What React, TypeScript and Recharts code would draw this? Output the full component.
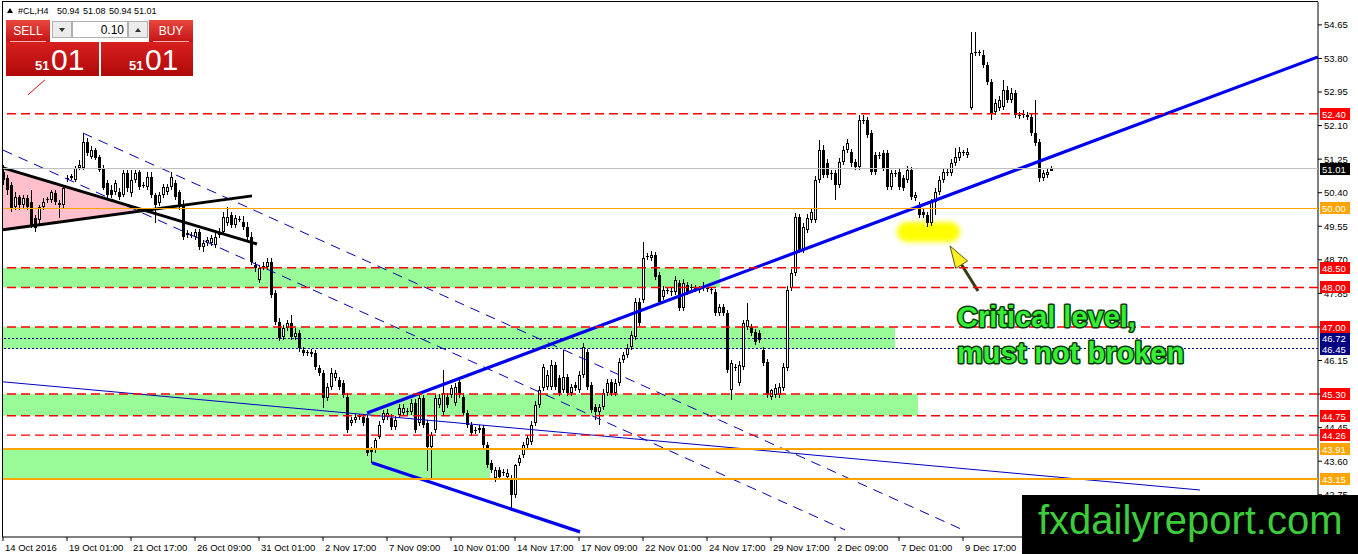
import React from 'react';
import { ComposedChart, Bar, XAxis, YAxis, ReferenceLine, ReferenceArea } from 'recharts';

const FONT = '"Liberation Sans", Arial, Helvetica, sans-serif';

// ---------- candle data (H4 bars, #CL) ----------
const opens = [
  50.93,50.78,50.60,50.04,50.29,50.09,50.27,50.17,49.76,49.71,
  50.04,50.22,50.22,50.40,50.09,50.09,50.75,50.78,50.72,51.03,
  51.03,51.69,51.31,51.48,51.31,51.03,50.65,50.47,50.42,50.42,
  50.34,50.90,50.40,50.72,50.93,50.57,50.55,50.80,50.34,50.14,
  50.34,50.42,50.55,50.65,50.42,50.09,49.38,49.33,49.28,49.41,
  49.03,49.13,49.13,49.08,49.33,49.41,49.63,49.84,49.58,49.74,
  49.66,49.53,49.28,48.57,48.19,48.52,48.52,48.65,47.86,47.13,
  46.75,46.98,47.10,46.75,46.85,46.42,46.34,46.37,46.34,45.96,
  45.84,45.20,45.48,45.71,45.66,45.58,45.23,44.57,44.65,44.72,
  44.72,44.70,43.83,43.89,44.22,44.65,44.72,44.70,44.47,44.77,
  44.82,44.85,44.85,45.07,44.57,45.20,44.57,43.96,44.39,45.02,
  44.85,45.23,45.28,45.07,45.61,45.23,44.82,44.52,44.39,44.39,
  44.44,44.01,43.56,43.18,43.38,43.33,43.20,43.18,42.75,43.56,
  43.76,44.01,44.09,44.57,45.02,45.45,45.48,45.48,46.04,45.71,
  45.40,45.73,45.33,45.53,45.40,45.78,46.37,45.53,44.97,44.85,
  44.97,45.33,45.61,45.33,45.58,46.16,46.29,46.49,46.75,47.63,
  47.68,48.77,48.75,48.82,48.32,47.76,47.94,47.89,47.89,48.11,
  47.48,48.06,48.01,47.99,47.94,47.99,47.99,47.94,47.89,47.35,
  47.51,47.35,45.40,45.99,45.58,45.99,47.00,47.00,46.87,46.85,
  46.42,46.11,45.23,45.28,45.28,45.45,45.96,47.99,48.37,49.79,
  48.95,49.46,49.71,49.71,50.72,51.48,51.15,50.90,50.90,50.60,
  51.18,51.48,51.43,51.18,51.05,52.24,52.24,51.91,51.36,51.36,
  51.41,51.41,50.55,50.90,50.93,50.78,50.72,50.98,50.27,50.09,
  49.91,49.84,49.63,50.17,50.42,50.72,50.90,50.90,51.15,51.28,
  51.41,51.36,52.55,53.97,53.94,53.89,53.64,53.21,52.45,52.55,
  52.57,53.00,52.75,52.93,52.37,52.37,52.37,52.32,51.91,51.69,
  50.78,50.85,50.94,
];
const highs = [
  51.10,50.85,50.67,50.42,50.34,50.34,50.34,50.47,49.84,50.09,
  50.27,50.29,50.47,50.47,50.22,50.60,50.85,50.88,51.08,51.23,
  51.91,51.79,51.58,51.53,51.36,51.10,50.72,50.60,50.72,50.52,
  50.98,50.98,50.98,50.98,50.98,50.67,50.93,50.93,50.40,50.42,
  50.62,50.62,50.93,50.72,50.47,50.22,49.46,49.41,49.48,49.48,
  49.20,49.28,49.33,49.38,49.51,49.91,50.04,49.91,49.84,49.81,
  49.81,49.66,49.41,48.65,48.57,48.65,48.75,48.75,47.94,47.23,
  47.05,47.18,47.30,46.98,46.92,46.49,46.42,46.44,46.42,46.04,
  45.91,45.58,45.96,45.91,45.73,45.66,45.33,44.72,44.80,44.80,
  44.80,44.77,43.96,44.19,44.62,44.90,44.92,44.80,44.75,45.05,
  45.05,44.95,45.18,45.18,45.33,45.28,44.65,44.34,45.28,45.30,
  45.91,45.33,45.53,45.58,45.71,45.33,44.90,44.60,44.47,44.52,
  44.52,44.09,43.63,43.45,43.45,43.40,43.40,43.25,43.53,43.76,
  44.09,44.27,44.62,45.13,45.51,46.06,45.91,46.16,46.11,45.78,
  46.42,45.81,45.56,45.61,45.89,46.59,46.44,45.61,45.05,45.05,
  45.43,45.68,45.68,45.68,46.21,46.37,46.57,46.90,47.73,47.73,
  49.15,48.87,48.92,48.90,48.39,48.04,48.01,47.99,48.29,48.19,
  48.22,48.14,48.09,48.06,48.04,48.14,48.09,48.01,47.96,47.58,
  47.58,47.43,46.16,46.06,46.14,47.18,47.61,47.07,46.95,46.92,
  46.49,46.19,45.43,45.56,45.58,46.09,48.04,48.47,49.89,49.86,
  49.63,49.86,50.01,50.82,51.74,51.61,51.26,50.98,50.98,51.28,
  51.58,51.76,51.51,51.26,52.37,52.37,52.32,51.99,51.43,51.43,
  51.48,51.48,50.98,50.98,51.00,50.85,51.08,51.05,50.42,50.17,
  49.99,49.91,50.24,50.52,50.82,51.03,51.03,51.26,51.53,51.56,
  51.48,51.53,54.47,54.47,54.02,54.02,53.71,53.28,52.77,52.85,
  53.26,53.10,53.05,53.00,52.45,52.50,52.45,52.40,52.75,51.76,
  50.98,51.00,51.08,
];
const lows = [
  50.60,50.34,49.91,49.96,49.96,50.01,49.96,49.51,49.41,49.61,
  49.96,50.14,50.14,50.09,49.76,50.01,50.67,50.72,50.67,50.98,
  50.98,51.33,51.26,51.23,50.93,50.47,50.27,50.27,50.34,50.22,
  50.29,50.42,50.29,50.65,50.47,50.52,50.47,50.27,49.63,50.06,
  50.27,50.34,50.47,50.22,49.96,49.20,49.25,49.25,49.20,48.95,
  48.90,49.05,49.05,49.00,49.25,49.33,49.56,49.51,49.51,49.66,
  49.46,49.20,48.57,48.39,48.11,48.44,48.44,47.73,47.05,46.65,
  46.67,46.90,46.67,46.67,46.37,46.27,46.27,46.24,45.91,45.76,
  44.95,45.13,45.40,45.63,45.40,45.20,44.32,44.49,44.57,44.65,
  44.49,43.73,43.56,43.81,44.15,44.57,44.65,44.39,44.39,44.70,
  44.75,44.77,44.77,44.32,44.49,44.44,43.35,43.13,44.32,44.95,
  44.77,44.95,45.20,45.00,45.20,44.75,44.44,44.24,44.29,44.32,
  43.93,43.43,43.30,43.07,43.13,43.23,43.13,42.37,42.67,43.48,
  43.68,43.93,44.01,44.49,44.95,45.38,45.40,45.40,45.40,45.25,
  45.33,45.25,45.25,45.38,45.33,45.71,45.40,44.82,44.65,44.52,
  44.90,45.25,45.25,45.25,45.51,46.09,46.21,46.42,46.67,47.02,
  47.61,48.70,48.67,48.19,47.56,47.68,47.84,47.79,47.81,47.40,
  47.40,47.81,47.91,47.89,47.86,47.91,47.89,47.84,47.28,47.28,
  47.28,45.84,45.15,45.89,45.51,45.91,46.93,46.77,46.54,46.59,
  46.01,45.20,45.15,45.20,45.20,45.38,45.89,47.91,48.29,48.87,
  48.87,49.38,49.63,49.63,50.65,50.77,50.77,50.72,50.22,50.52,
  51.10,51.41,51.05,50.98,50.98,52.14,51.79,50.85,50.85,51.26,
  50.95,50.47,50.47,50.80,50.47,50.44,50.65,50.22,50.19,49.76,
  49.76,49.53,49.56,49.84,50.34,50.65,50.82,50.82,51.08,51.20,
  51.33,51.28,52.50,53.86,53.86,53.56,53.13,52.24,52.37,52.47,
  52.50,52.67,52.67,52.29,52.27,52.29,52.24,51.84,51.58,50.67,
  50.70,50.77,50.94,
];
const closes = [
  50.72,50.47,50.01,50.29,50.09,50.27,50.04,49.58,49.51,50.04,
  50.17,50.24,50.42,50.17,50.14,50.52,50.78,50.83,51.03,51.10,
  51.69,51.41,51.48,51.28,50.98,50.52,50.34,50.34,50.65,50.29,
  50.90,50.52,50.72,50.90,50.55,50.60,50.80,50.34,50.09,50.34,
  50.55,50.55,50.80,50.29,50.04,49.28,49.33,49.32,49.41,49.03,
  49.13,49.20,49.25,49.28,49.41,49.79,49.79,49.58,49.76,49.73,
  49.53,49.28,48.65,48.50,48.50,48.55,48.65,47.81,47.13,46.72,
  46.98,47.10,46.75,46.85,46.47,46.34,46.37,46.32,45.99,45.84,
  45.20,45.48,45.84,45.84,45.48,45.28,44.39,44.65,44.72,44.75,
  44.57,43.81,43.89,44.14,44.52,44.82,44.82,44.47,44.65,44.95,
  44.95,44.87,45.07,44.39,45.20,44.52,43.96,44.27,45.20,45.20,
  45.33,45.02,45.45,45.48,45.28,44.82,44.52,44.32,44.37,44.44,
  44.01,43.50,43.38,43.38,43.20,43.30,43.30,42.75,43.50,43.68,
  44.01,44.19,44.52,45.02,45.40,45.99,45.78,46.04,45.48,45.33,
  45.73,45.33,45.48,45.45,45.78,46.49,45.48,44.90,44.85,44.97,
  45.33,45.58,45.33,45.58,46.11,46.29,46.47,46.80,47.63,47.10,
  48.75,48.80,48.82,48.27,47.63,47.94,47.91,47.91,48.19,47.48,
  48.11,47.89,47.99,47.96,47.96,48.01,47.96,47.96,47.35,47.51,
  47.35,45.91,46.09,45.96,46.04,47.10,47.18,46.85,46.62,46.67,
  46.09,45.28,45.40,45.45,45.48,45.99,47.94,48.37,49.79,48.95,
  49.53,49.76,49.91,50.72,51.48,50.85,50.85,50.88,50.60,51.18,
  51.48,51.66,51.15,51.05,52.24,52.22,51.86,50.93,50.93,51.33,
  51.03,50.55,50.90,50.88,50.55,50.52,50.98,50.29,50.34,49.84,
  49.84,49.63,50.17,50.42,50.72,50.93,50.93,51.15,51.31,51.43,
  51.42,51.43,53.94,53.94,53.97,53.64,53.21,52.42,52.67,52.75,
  53.00,52.75,52.93,52.37,52.34,52.39,52.32,51.91,51.66,50.78,
  50.90,50.93,51.01,
];

const timeLabels = [
  '14 Oct 2016', '19 Oct 01:00', '21 Oct 17:00', '26 Oct 09:00', '31 Oct 01:00',
  '2 Nov 17:00', '7 Nov 09:00', '10 Nov 01:00', '14 Nov 17:00', '17 Nov 09:00',
  '22 Nov 01:00', '24 Nov 17:00', '29 Nov 17:00', '2 Dec 09:00', '7 Dec 01:00', '9 Dec 17:00',
];
const barsPerTimeLabel = 16;
const priceTicks = [54.65, 53.8, 52.95, 52.1, 51.25, 50.4, 49.55, 48.7, 47.85, 47.0, 46.15, 45.3, 44.45, 43.6, 42.75];

// horizontal levels
const resistanceLevels = [52.40, 48.50, 48.00, 47.00, 45.30, 44.75, 44.26];
const pivotLevels = [46.72, 46.45];
const supportLevels = [43.91, 43.15];
const roundLevel = 50.0;
const bidPrice = 51.01;

// green zones (top, bottom, last bar index reached)
const zoneTops = [48.50, 47.00, 45.30, 43.91];
const zoneBottoms = [48.00, 46.45, 44.75, 43.15];
const zoneEnds = [179.25, 223, 228.75, 121.75];

// drawn trend lines: [barIndex1, price1, barIndex2, price2]
const channelLines = [[20, 51.91, 240, 41.86], [0, 51.48, 210.5, 41.86]];
const thickBlueLines = [[91, 44.82, 328.75, 53.84], [92.25, 43.56, 144.25, 41.81]];
const thinBlueLines = [[0, 45.61, 299.25, 42.87]];
const blackLines = [[0, 51.03, 63.5, 49.10], [0, 49.46, 62.25, 50.32]];
const redSketchLines = [[6.25, 52.88, 10.5, 53.26]];
const triangleBase = [0, 51.03, 49.46]; // bar index, top price, bottom price
const triangleApex = [34.25, 49.96];
const highlightBox = [223.5, 239.25, 49.15, 49.66];
const arrowLine = [243.75, 47.91, 236.75, 49.05];

const X_MIN = -0.25, X_MAX = 328.75, Y_MIN = 41.68, Y_MAX = 55.23;

const candles = opens.map((o, i) => ({ i, o, h: highs[i], l: lows[i], c: closes[i] }));
const timeTicks = timeLabels.map((_, k) => k * barsPerTimeLabel);

function Candle(props: any) {
  const { x, y, width, height, index } = props;
  const d = props.payload && props.payload.o !== undefined ? props.payload : candles[index];
  if (!d || !isFinite(y) || !isFinite(height)) return null;
  const top0 = Math.min(y, y + height);
  const hgt = Math.abs(height);
  const span = d.h - d.l || 1;
  const py = (p: number) => top0 + ((d.h - p) / span) * hgt;
  const cx = Math.round(x + width / 2);
  const hiY = Math.round(top0);
  const loY = Math.round(top0 + hgt);
  const bt = Math.round(py(Math.max(d.o, d.c)));
  const bb = Math.round(py(Math.min(d.o, d.c)));
  const bh = Math.max(1, bb - bt);
  const bull = d.c > d.o;
  return (
    <g shapeRendering="crispEdges">
      <rect x={cx} y={hiY} width={1} height={Math.max(1, loY - hiY)} fill="#000" />
      <rect x={cx - 1} y={bt} width={3} height={bh} fill="#000" />
      {bull && bh > 2 ? <rect x={cx} y={bt + 1} width={1} height={bh - 2} fill="#fff" /> : null}
    </g>
  );
}

function Tag(props: any) {
  const { viewBox, text, bg } = props;
  if (!viewBox) return null;
  const bx = viewBox.x + viewBox.width + 2;
  const cy = Math.round(viewBox.y);
  return (
    <g>
      <rect x={bx} y={cy - 6} width={30} height={12} fill={bg} shapeRendering="crispEdges" />
      <text x={bx + 2} y={cy + 4} fill="#fff" fontSize={9.5} fontFamily={FONT}>{text}</text>
    </g>
  );
}

function TimeTick(props: any) {
  const { x, y, payload } = props;
  const k = timeTicks.indexOf(payload.value);
  if (k < 0) return null;
  return (
    <text x={x + 2} y={y + 8} fontSize={9.5} fontFamily={FONT} fill="#000">{timeLabels[k]}</text>
  );
}

function ArrowShape(p: any) {
  const { x1, y1, x2, y2 } = p;
  if (![x1, y1, x2, y2].every((v) => isFinite(v))) return null;
  const dx = x2 - x1, dy = y2 - y1;
  const len = Math.hypot(dx, dy) || 1;
  const ux = dx / len, uy = dy / len;
  const hl = 22, hw = 7;
  const bx = x2 - ux * hl, by = y2 - uy * hl;
  const nx = -uy, ny = ux;
  return (
    <g>
      <line x1={x1} y1={y1} x2={bx} y2={by} stroke="#3a3a12" strokeWidth={3} />
      <polygon
        points={`${x2},${y2} ${bx + nx * hw},${by + ny * hw} ${bx - nx * hw},${by - ny * hw}`}
        fill="#ffee22"
        stroke="#5a5a10"
        strokeWidth={1}
      />
    </g>
  );
}

function TriangleShape(p: any) {
  const { x, y, width, height } = p;
  if (![x, y, width, height].every((v) => isFinite(v))) return null;
  const apexY = y + ((triangleBase[1] - triangleApex[1]) / (triangleBase[1] - triangleBase[2])) * height;
  return <polygon points={`${x},${y} ${x},${y + height} ${x + width},${apexY}`} fill="#FFC0CB" />;
}

function BlobShape(p: any) {
  const { x, y, width, height } = p;
  if (![x, y, width, height].every((v) => isFinite(v))) return null;
  return (
    <g>
      <defs>
        <filter id="blobBlur" x="-50%" y="-50%" width="200%" height="200%">
          <feGaussianBlur stdDeviation="2.5" />
        </filter>
      </defs>
      <rect x={x} y={y} width={width} height={height} rx={height / 2} fill="#ffff00" filter="url(#blobBlur)" />
    </g>
  );
}

const seg = (s: number[]) => [{ x: s[0], y: s[1] }, { x: s[2], y: s[3] }] as any;
const TAG_Z = 2500;

export default function App() {
  return (
    <div style={{ position: 'absolute', left: 0, top: 0, width: 1358, height: 554, background: '#fff', fontFamily: FONT, overflow: 'hidden' }}>
      <ComposedChart
        width={1358}
        height={554}
        data={candles}
        margin={{ top: 2, right: 0, bottom: 0, left: 2 }}
        style={{ fontFamily: FONT }}
      >
        <XAxis
          dataKey="i"
          type="number"
          domain={[X_MIN, X_MAX]}
          allowDataOverflow
          ticks={timeTicks}
          interval={0}
          tickSize={4}
          tickMargin={2}
          height={17}
          tick={<TimeTick />}
          axisLine={{ stroke: '#000' }}
          tickLine={{ stroke: '#000' }}
        />
        <YAxis
          orientation="right"
          type="number"
          domain={[Y_MIN, Y_MAX]}
          allowDataOverflow
          ticks={priceTicks}
          interval={0}
          width={40}
          tickSize={4}
          tickMargin={2}
          tickFormatter={(v: number) => v.toFixed(2)}
          tick={{ fontSize: 9.5, fill: '#000', fontFamily: FONT }}
          axisLine={{ stroke: '#000' }}
          tickLine={{ stroke: '#000' }}
        />

        {zoneTops.map((t, k) => (
          <ReferenceArea key={'z' + k} x1={X_MIN} x2={zoneEnds[k]} y1={zoneBottoms[k]} y2={t}
            fill="#98FB98" fillOpacity={1} stroke="none" ifOverflow="hidden" />
        ))}
        <ReferenceArea x1={triangleBase[0]} x2={triangleApex[0]} y1={triangleBase[2]} y2={triangleBase[1]}
          shape={TriangleShape} ifOverflow="hidden" />
        <ReferenceArea x1={highlightBox[0]} x2={highlightBox[1]} y1={highlightBox[2]} y2={highlightBox[3]}
          shape={BlobShape} ifOverflow="hidden" />

        <Bar dataKey={(d: any) => [d.l, d.h]} barSize={3} shape={Candle} isAnimationActive={false} />

        <ReferenceLine y={bidPrice} stroke="#c0c0c0" strokeWidth={1} shapeRendering="crispEdges" zIndex={TAG_Z}
          label={(p: any) => <Tag {...p} text={bidPrice.toFixed(2)} bg="#000" />} />
        <ReferenceLine y={roundLevel} stroke="#FFA500" strokeWidth={1} shapeRendering="crispEdges" zIndex={TAG_Z}
          label={(p: any) => <Tag {...p} text={roundLevel.toFixed(2)} bg="#FFA500" />} />
        {supportLevels.map((v) => (
          <ReferenceLine key={'s' + v} y={v} stroke="#FFA500" strokeWidth={2} shapeRendering="crispEdges" zIndex={TAG_Z}
            label={(p: any) => <Tag {...p} text={v.toFixed(2)} bg="#FFA500" />} />
        ))}
        {pivotLevels.map((v) => (
          <ReferenceLine key={'p' + v} y={v} stroke="#000080" strokeWidth={1} strokeDasharray="2 2" shapeRendering="crispEdges" zIndex={TAG_Z}
            label={(p: any) => <Tag {...p} text={v.toFixed(2)} bg="#000080" />} />
        ))}
        {resistanceLevels.map((v) => (
          <ReferenceLine key={'r' + v} y={v} stroke="#FF0000" strokeWidth={1.4} strokeDasharray="9 5" zIndex={TAG_Z}
            label={(p: any) => <Tag {...p} text={v.toFixed(2)} bg="#FF0000" />} />
        ))}

        {channelLines.map((s, k) => (
          <ReferenceLine key={'c' + k} segment={seg(s)} stroke="#0000B0" strokeWidth={1} strokeDasharray="10 7" ifOverflow="hidden" />
        ))}
        {thinBlueLines.map((s, k) => (
          <ReferenceLine key={'t' + k} segment={seg(s)} stroke="#0000C0" strokeWidth={1} ifOverflow="hidden" />
        ))}
        {blackLines.map((s, k) => (
          <ReferenceLine key={'b' + k} segment={seg(s)} stroke="#000" strokeWidth={3} ifOverflow="hidden" />
        ))}
        {thickBlueLines.map((s, k) => (
          <ReferenceLine key={'u' + k} segment={seg(s)} stroke="#0000F0" strokeWidth={3.2} ifOverflow="hidden" />
        ))}
        {redSketchLines.map((s, k) => (
          <ReferenceLine key={'rs' + k} segment={seg(s)} stroke="#d01010" strokeWidth={1} ifOverflow="hidden" />
        ))}
        <ReferenceLine segment={seg(arrowLine)} shape={ArrowShape} ifOverflow="hidden" />
      </ComposedChart>

      <svg width={1358} height={554} style={{ position: 'absolute', left: 0, top: 0, pointerEvents: 'none' }}>
        <defs>
          <linearGradient id="redTop" x1="0" y1="0" x2="0" y2="1">
            <stop offset="0" stopColor="#E8473F" />
            <stop offset="1" stopColor="#C41414" />
          </linearGradient>
          <linearGradient id="redBig" x1="0" y1="0" x2="0" y2="1">
            <stop offset="0" stopColor="#D82020" />
            <stop offset="1" stopColor="#B00808" />
          </linearGradient>
        </defs>
        {/* frame */}
        <line x1={2.5} y1={1} x2={2.5} y2={537} stroke="#000" strokeWidth={1} />
        <line x1={2} y1={1.5} x2={1318} y2={1.5} stroke="#000" strokeWidth={1} />

        {/* header */}
        <polygon points="7,13 13,13 10,8" fill="#000" />
        <g fontFamily={FONT} fontSize={9} fill="#000">
          <text x={18} y={14}>#CL,H4</text>
          <text x={57} y={14}>50.94</text>
          <text x={83} y={14}>51.08</text>
          <text x={109} y={14}>50.94</text>
          <text x={134} y={14}>51.01</text>
        </g>

        {/* one-click trading panel */}
        <rect x={6} y={20} width={44} height={22} fill="url(#redTop)" />
        <text x={28} y={35} textAnchor="middle" fontFamily={FONT} fontSize={12} fill="#fff">SELL</text>
        <line x1={10} y1={41.5} x2={46} y2={41.5} stroke="#f4b0b0" strokeWidth={1} />
        <rect x={52.5} y={21.5} width={19} height={16} fill="#ececec" stroke="#b0b0b0" />
        <polygon points="59,28 65,28 62,32" fill="#333" />
        <rect x={72.5} y={21.5} width={55} height={16} fill="#fff" stroke="#b0b0b0" />
        <text x={124} y={34} textAnchor="end" fontFamily={FONT} fontSize={12} fill="#000">0.10</text>
        <rect x={128.5} y={21.5} width={19} height={16} fill="#ececec" stroke="#b0b0b0" />
        <polygon points="135,32 141,32 138,28" fill="#333" />
        <rect x={149} y={20} width={44} height={22} fill="url(#redTop)" />
        <text x={171} y={35} textAnchor="middle" fontFamily={FONT} fontSize={12} fill="#fff">BUY</text>
        <line x1={153} y1={41.5} x2={189} y2={41.5} stroke="#f4b0b0" strokeWidth={1} />
        <rect x={6} y={42} width={93} height={34} fill="url(#redBig)" />
        <rect x={101} y={42} width={92} height={34} fill="url(#redBig)" />
        <g fontFamily={FONT} fill="#fff">
          <text x={35} y={70} fontSize={13} fontWeight="bold">51</text>
          <text x={51} y={70} fontSize={30}>01</text>
          <text x={129} y={70} fontSize={13} fontWeight="bold">51</text>
          <text x={145} y={70} fontSize={30}>01</text>
        </g>

        {/* annotation */}
        <g fontFamily={FONT} fontWeight="bold" fontSize={29} fill="#33ee33" stroke="#073807" strokeWidth={3}
          style={{ paintOrder: 'stroke' } as any} strokeLinejoin="round">
          <text x={957} y={327}>Critical level,</text>
          <text x={957} y={363}>must not broken</text>
        </g>

        {/* watermark */}
        <rect x={1022} y={495} width={336} height={59} fill="#000" />
        <text x={1038} y={534} fontFamily={FONT} fontSize={40} fill="#3ccc3c">fxdailyreport.com</text>
      </svg>
    </div>
  );
}
